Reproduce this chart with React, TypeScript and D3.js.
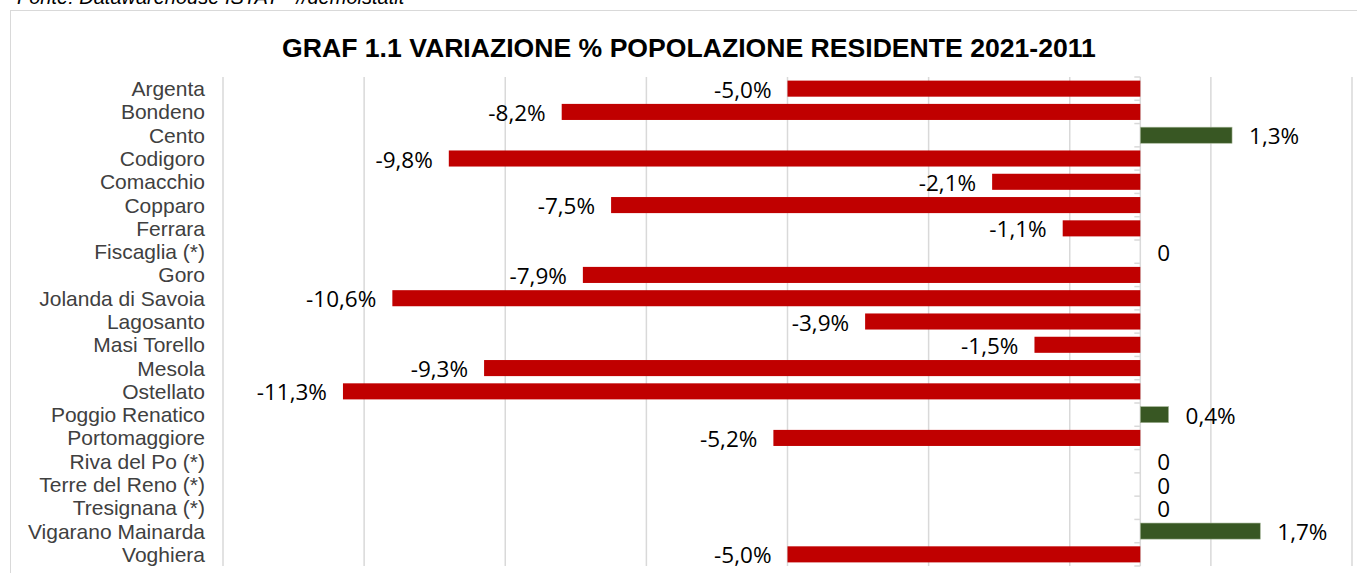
import React, { useEffect, useRef } from 'react';
import * as d3 from 'd3';

// comuni della provincia di Ferrara
const comuni = [
  'Argenta', 'Bondeno', 'Cento', 'Codigoro', 'Comacchio', 'Copparo', 'Ferrara',
  'Fiscaglia (*)', 'Goro', 'Jolanda di Savoia', 'Lagosanto', 'Masi Torello',
  'Mesola', 'Ostellato', 'Poggio Renatico', 'Portomaggiore', 'Riva del Po (*)',
  'Terre del Reno (*)', 'Tresignana (*)', 'Vigarano Mainarda', 'Voghiera'
];

// variazione % 2021-2011 (0 = comuni nati da fusione)
const variazioni = [
  -5.0, -8.2, 1.3, -9.8, -2.1, -7.5, -1.1, 0, -7.9, -10.6, -3.9, -1.5,
  -9.3, -11.3, 0.4, -5.2, 0, 0, 0, 1.7, -5.0
];

const gridTicks = [-13, -11, -9, -7, -5, -3, -1, 1, 3];

const titolo = 'GRAF 1.1 VARIAZIONE % POPOLAZIONE RESIDENTE 2021-2011';
const fonte = 'Fonte: Datawarehouse ISTAT - //demoistatit';

const W = 1357;
const H = 573;

const fmt = (v: number) => (v === 0 ? '0' : v.toFixed(1).replace('.', ',') + '%');

function Chart() {
  const ref = useRef<SVGSVGElement>(null);

  useEffect(() => {
    const svg = d3.select(ref.current);
    svg.selectAll('*').remove();

    const margin = { left: 223, right: 5, top: 77, bottom: 7 };

    // cornice del grafico
    svg.append('rect')
      .attr('x', 10.5).attr('y', 10.5)
      .attr('width', W + 20).attr('height', H + 20)
      .attr('fill', '#fff').attr('stroke', '#d9d9d9').attr('stroke-width', 1);

    svg.append('text')
      .attr('x', 17).attr('y', 4)
      .attr('font-family', 'Liberation Sans, Arial, sans-serif')
      .attr('font-style', 'italic').attr('font-size', 20).attr('fill', '#000')
      .text(fonte);

    svg.append('text')
      .attr('x', 689).attr('y', 57)
      .attr('text-anchor', 'middle')
      .attr('font-family', 'Liberation Sans, Arial, sans-serif')
      .attr('font-weight', 'bold').attr('font-size', 26.6).attr('fill', '#000')
      .text(titolo);

    const x = d3.scaleLinear()
      .domain([-13, 3])
      .range([margin.left, W - margin.right]);

    const y = d3.scaleBand()
      .domain(comuni)
      .range([margin.top, H - margin.bottom])
      .paddingInner(0.31)
      .paddingOuter(0.155);

    const step = y.step();
    const top = margin.top;
    const bottom = H - margin.bottom;

    // griglia verticale
    svg.append('g')
      .selectAll('line')
      .data(gridTicks)
      .enter()
      .append('line')
      .attr('x1', d => x(d)).attr('x2', d => x(d))
      .attr('y1', top).attr('y2', bottom)
      .attr('stroke', '#d9d9d9').attr('stroke-width', 1.5);

    // asse a zero con tacche tra le categorie
    const x0 = x(0);
    svg.append('line')
      .attr('x1', x0).attr('x2', x0)
      .attr('y1', top).attr('y2', bottom)
      .attr('stroke', '#d9d9d9').attr('stroke-width', 1.5);
    svg.append('g')
      .selectAll('line')
      .data(d3.range(comuni.length + 1))
      .enter()
      .append('line')
      .attr('x1', x0 - 6).attr('x2', x0)
      .attr('y1', i => top + i * step).attr('y2', i => top + i * step)
      .attr('stroke', '#d9d9d9').attr('stroke-width', 1.5);

    // barre
    svg.append('g')
      .selectAll('rect')
      .data(variazioni)
      .enter()
      .append('rect')
      .attr('x', d => x(Math.min(0, d)))
      .attr('y', (d, i) => y(comuni[i]) as number)
      .attr('width', d => Math.abs(x(d) - x0))
      .attr('height', y.bandwidth())
      .attr('fill', d => (d < 0 ? '#c00000' : '#385723'))
      .attr('stroke', d => (d > 0 ? '#a3b496' : 'none'))
      .attr('stroke-width', 0.6);

    // etichette dei comuni
    svg.append('g')
      .selectAll('text')
      .data(comuni)
      .enter()
      .append('text')
      .attr('x', 205)
      .attr('y', d => (y(d) as number) + y.bandwidth() / 2 + 7.5)
      .attr('text-anchor', 'end')
      .attr('font-family', 'Liberation Sans, Arial, sans-serif')
      .attr('font-size', 21).attr('fill', '#404040')
      .text(d => d);

    // etichette dei valori
    svg.append('g')
      .selectAll('text')
      .data(variazioni)
      .enter()
      .append('text')
      .attr('x', d => (d < 0 ? x(d) - 16 : x(d) + 17))
      .attr('y', (d, i) => (y(comuni[i]) as number) + y.bandwidth() / 2 + 9)
      .attr('text-anchor', d => (d < 0 ? 'end' : 'start'))
      .attr('font-family', 'Open Sans, sans-serif')
      .attr('font-size', 22.5).attr('fill', '#000')
      .text(d => fmt(d));
  }, []);

  return <svg ref={ref} width={W} height={H} style={{ display: 'block' }} />;
}

export default function App() {
  return (
    <div style={{ position: 'absolute', left: 0, top: 0, background: '#fff' }}>
      <Chart />
    </div>
  );
}
